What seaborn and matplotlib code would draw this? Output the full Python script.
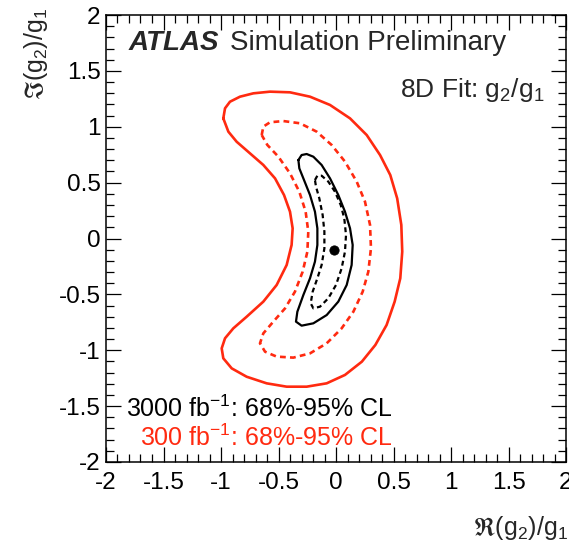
import numpy as np
import matplotlib
matplotlib.use("Agg")
import matplotlib.pyplot as plt
from matplotlib.ticker import MultipleLocator, FormatStrFormatter
import seaborn as sns

# ---- data (contour outlines in Re/Im(g2)/g1 space) ----
# 300 fb^-1, 95% CL (red solid)
red95_x = [-0.980, -0.965, -0.922, -0.835, -0.719, -0.574, -0.400, -0.226, -0.052, 0.122,
           0.267, 0.383, 0.472, 0.532, 0.568, 0.576, 0.559, 0.510, 0.440, 0.342,
           0.225, 0.078, -0.081, -0.255, -0.429, -0.603, -0.777, -0.907, -0.980, -0.994,
           -0.965, -0.893, -0.777, -0.632, -0.516, -0.429, -0.386, -0.377, -0.400, -0.452,
           -0.530, -0.632, -0.748, -0.864, -0.936]
red95_y = [1.075, 1.165, 1.224, 1.269, 1.299, 1.314, 1.308, 1.269, 1.195, 1.075,
           0.926, 0.747, 0.568, 0.359, 0.121, -0.118, -0.356, -0.565, -0.774, -0.953,
           -1.102, -1.221, -1.296, -1.326, -1.326, -1.296, -1.237, -1.162, -1.072, -0.983,
           -0.893, -0.804, -0.700, -0.565, -0.416, -0.237, -0.058, 0.091, 0.240, 0.389,
           0.538, 0.658, 0.762, 0.866, 0.956]
# 300 fb^-1, 68% CL (red dashed)
red68_x = [-0.646, -0.632, -0.574, -0.458, -0.313, -0.168, -0.038, 0.078, 0.180, 0.252,
           0.296, 0.304, 0.281, 0.232, 0.151, 0.049, -0.081, -0.226, -0.371, -0.516,
           -0.617, -0.661, -0.632, -0.545, -0.443, -0.357, -0.290, -0.249, -0.241, -0.264,
           -0.319, -0.400, -0.501, -0.597]
red68_y = [0.926, 1.001, 1.040, 1.051, 1.031, 0.956, 0.837, 0.688, 0.509, 0.330,
           0.121, -0.088, -0.297, -0.476, -0.655, -0.804, -0.938, -1.028, -1.066, -1.057,
           -1.013, -0.938, -0.849, -0.744, -0.625, -0.476, -0.297, -0.118, 0.061, 0.240,
           0.419, 0.583, 0.732, 0.837]
# 3000 fb^-1, 95% CL (black solid)
blk95_x = [-0.327, -0.299, -0.255, -0.197, -0.125, -0.052, 0.020, 0.078, 0.122, 0.145,
           0.136, 0.093, 0.020, -0.081, -0.197, -0.299, -0.348, -0.336, -0.284, -0.226,
           -0.183, -0.162, -0.162, -0.183, -0.226, -0.278, -0.319]
blk95_y = [0.702, 0.747, 0.756, 0.732, 0.658, 0.538, 0.389, 0.240, 0.091, -0.058,
           -0.237, -0.416, -0.565, -0.685, -0.759, -0.780, -0.744, -0.655, -0.506, -0.356,
           -0.207, -0.058, 0.091, 0.240, 0.389, 0.523, 0.628]
# 3000 fb^-1, 68% CL (black dashed)
blk68_x = [-0.183, -0.162, -0.125, -0.067, -0.009, 0.041, 0.072, 0.087, 0.078, 0.049,
           0.000, -0.067, -0.139, -0.197, -0.220, -0.203, -0.162, -0.125, -0.101, -0.101,
           -0.116, -0.145, -0.174]
blk68_y = [0.523, 0.562, 0.562, 0.509, 0.419, 0.300, 0.180, 0.031, -0.118, -0.267,
           -0.416, -0.535, -0.610, -0.625, -0.580, -0.476, -0.356, -0.237, -0.088, 0.061,
           0.210, 0.359, 0.464]
# best-fit point
best_x = [-0.014]
best_y = [-0.103]

x_ticks = [-2, -1.5, -1, -0.5, 0, 0.5, 1, 1.5, 2]
y_ticks = [-2, -1.5, -1, -0.5, 0, 0.5, 1, 1.5, 2]

RED = "#ff2a10"

sns.set_theme(style="ticks")
plt.rcParams["font.family"] = ["Liberation Sans", "DejaVu Sans"]
plt.rcParams["mathtext.fontset"] = "custom"
plt.rcParams["mathtext.rm"] = "Liberation Sans"
plt.rcParams["mathtext.it"] = "Liberation Sans:italic"
plt.rcParams["mathtext.bf"] = "Liberation Sans:bold"
plt.rcParams["mathtext.default"] = "regular"
plt.rcParams["mathtext.fallback"] = "stix"
plt.rcParams["axes.unicode_minus"] = False

fig = plt.figure(figsize=(5.69, 5.5), dpi=100)
ax = fig.add_axes([106 / 569, 1 - 462 / 550, 460 / 569, 447 / 550])


def closed(a):
    return list(a) + [a[0]]


line_kw = dict(sort=False, estimator=None, ax=ax, solid_joinstyle="round",
               dash_joinstyle="round")
sns.lineplot(x=closed(red95_x), y=closed(red95_y), color=RED, lw=1.9, **line_kw)
sns.lineplot(x=closed(red68_x), y=closed(red68_y), color=RED, lw=1.9,
             linestyle=(0, (2.2, 1.6)), **line_kw)
sns.lineplot(x=closed(blk95_x), y=closed(blk95_y), color="black", lw=1.6, **line_kw)
sns.lineplot(x=closed(blk68_x), y=closed(blk68_y), color="black", lw=1.6,
             linestyle=(0, (2.2, 1.6)), **line_kw)
sns.scatterplot(x=best_x, y=best_y, color="black", s=45, edgecolor="black", ax=ax, zorder=5)

ax.set_xlim(-2, 2)
ax.set_ylim(-2, 2)
ax.set_xticks(x_ticks)
ax.set_yticks(y_ticks)
ax.xaxis.set_major_formatter(FormatStrFormatter("%g"))
ax.yaxis.set_major_formatter(FormatStrFormatter("%g"))
ax.xaxis.set_minor_locator(MultipleLocator(0.1))
ax.yaxis.set_minor_locator(MultipleLocator(0.1))
ax.tick_params(which="both", direction="in", top=True, right=True, colors="black",
               labelsize=17.5, width=0.9)
ax.tick_params(which="major", length=11)
ax.tick_params(which="minor", length=5.5)
ax.tick_params(axis="x", which="major", pad=7)
ax.tick_params(axis="y", which="major", pad=4)
for s in ax.spines.values():
    s.set_linewidth(1.1)
    s.set_color("black")
ax.set_xlabel("")
ax.set_ylabel("")

# axis titles
fig.text(568 / 569, 1 - 514 / 550, r"$\Re(g_{2})/g_{1}$", ha="right", va="top", fontsize=18)
fig.text(36 / 569, 1 - 8 / 550, r"$\Im(g_{2})/g_{1}$", ha="center", va="top", rotation=90,
         fontsize=18)

ax.text(0.048, 0.922, "ATLAS", transform=ax.transAxes, fontsize=20, fontweight="bold",
        fontstyle="italic", ha="left", va="baseline")
ax.text(0.2696, 0.922, "Simulation Preliminary", transform=ax.transAxes, fontsize=20,
        ha="left", va="baseline")
ax.text(0.954, 0.8166, r"8D Fit: g$_{2}$/g$_{1}$", transform=ax.transAxes, fontsize=19,
        ha="right", va="baseline")
ax.text(0.624, 0.101, r"3000 fb$^{-1}$: 68%-95% CL", transform=ax.transAxes, fontsize=18,
        ha="right", va="baseline", color="black")
ax.text(0.624, 0.0365, r"300 fb$^{-1}$: 68%-95% CL", transform=ax.transAxes, fontsize=18,
        ha="right", va="baseline", color=RED)

fig.savefig("out.png", dpi=100)
